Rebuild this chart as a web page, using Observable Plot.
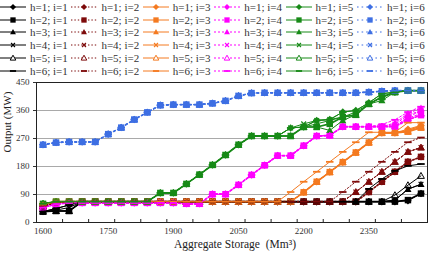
<!DOCTYPE html>
<html>
<head>
<meta charset="utf-8">
<script src="https://cdn.jsdelivr.net/npm/d3@7"></script>
<script src="https://cdn.jsdelivr.net/npm/@observablehq/plot@0.6"></script>
<style>
  body { margin: 0; background: #fff; }
  #wrap { position: relative; width: 428px; height: 253px; overflow: hidden;
          font-family: "Liberation Serif", "Times New Roman", serif; background: #fff; }
  #legend { position: absolute; left: 0; top: 0; width: 428px; height: 77px; }
  .item { position: absolute; height: 13px; display: flex; align-items: center;
          font-size: 11px; color: #333; white-space: nowrap; }
  .item span { margin-left: 4px; }
  #chart { position: absolute; left: 0; top: 77px; }
</style>
</head>
<body>
<div id="wrap"><div id="legend"></div><div id="chart"></div></div>
<script>
// Aggregate storage (Mm³) at each evaluated point
const storage = [1600,1630,1660,1690,1720,1750,1780,1810,1840,1870,
                 1900,1930,1960,1990,2020,2050,2080,2110,2140,2170,
                 2200,2230,2260,2290,2320,2350,2380,2410,2440,2470];
const storageTicks = [1600,1750,1900,2050,2200,2350];
const outputTicks = [0,90,180,270,360,450];
const hValues = [1,2,3,4,5,6];
const iValues = [1,2,3,4,5,6];

// Output (MW) for each h (rows) and i (columns)
const i1h1 = [35,45,56,67,67,67,67,67,67,67, 67,67,67,67,67,67,67,67,67,67, 67,67,67,67,67,67,67,67,70,93];
const i1h2 = [35,37,37,67,67,67,67,67,67,67, 67,67,67,67,67,67,67,67,67,67, 67,67,67,67,67,67,67,67,72,93];
const i1h3 = [35,37,37,67,67,67,67,67,67,67, 67,67,67,67,67,67,67,67,67,67, 67,67,67,67,67,67,67,72,107,123];
const i1h4 = [35,40,48,67,67,67,67,67,67,67, 67,67,67,67,67,67,67,67,67,67, 67,67,67,67,67,67,67,72,107,123];
const i1h5 = [35,37,37,67,67,67,67,67,67,67, 67,67,67,67,67,67,67,67,67,67, 67,67,67,67,67,67,67,88,120,150];
const i1h6 = [35,45,56,67,67,67,67,67,67,67, 67,67,67,67,67,67,67,67,67,67, 67,67,67,67,67,108,140,166,182,188];

const i2h1 = [52,65,67,67,67,67,67,67,67,67, 67,67,67,67,67,67,67,67,67,67, 67,67,67,67,67,98,131,163,195,211];
const i2h2 = [52,65,67,67,67,67,67,67,67,67, 67,67,67,67,67,67,67,67,67,67, 67,67,67,67,67,98,131,163,195,211];
const i2h3 = [52,65,67,67,67,67,67,67,67,67, 67,67,67,67,67,67,67,67,67,67, 67,67,67,67,98,131,163,195,227,241];
const i2h4 = [52,65,67,67,67,67,67,67,67,67, 67,67,67,67,67,67,67,67,67,67, 67,67,67,67,98,131,163,195,227,241];
const i2h5 = [52,65,67,67,67,67,67,67,67,67, 67,67,67,67,67,67,67,67,67,67, 67,67,67,67,98,131,163,195,227,241];
const i2h6 = [52,65,67,67,67,67,67,67,67,67, 67,67,67,67,67,67,67,67,67,67, 67,67,67,98,131,163,195,227,258,273];

const i3h1 = [58,67,67,67,67,67,67,67,67,67, 67,67,67,67,67,67,67,67,67,67, 97,131,162,194,225,257,288,288,300,312];
const i3h2 = [58,67,67,67,67,67,67,67,67,67, 67,67,67,67,67,67,67,67,67,67, 97,131,162,194,225,257,288,288,292,305];
const i3h3 = [58,67,67,67,67,67,67,67,67,67, 67,67,67,67,67,67,67,67,67,67, 97,131,162,194,225,257,288,288,296,310];
const i3h4 = [58,67,67,67,67,67,67,67,67,67, 67,67,67,67,67,67,67,67,67,67, 97,131,162,194,225,257,288,288,296,310];
const i3h5 = [58,67,67,67,67,67,67,67,67,67, 67,67,67,67,67,67,67,67,67,67, 97,131,162,194,225,257,288,288,292,305];
const i3h6 = [58,67,67,67,67,67,67,67,67,67, 67,67,67,67,67,67,67,67,67,98, 131,163,195,227,258,290,290,290,321,321];

const i4h1 = [48,59,63,63,63,63,63,63,63,63, 63,60,60,91,91,121,153,184,215,215, 247,278,280,308,308,308,308,308,340,358];
const i4h2 = [48,59,63,63,63,63,63,63,63,63, 63,60,60,91,91,121,153,184,215,215, 247,278,280,308,308,308,308,308,330,345];
const i4h3 = [48,59,63,63,63,63,63,63,63,63, 63,60,60,91,91,121,153,184,215,215, 247,278,280,308,308,308,308,320,350,368];
const i4h4 = [48,59,63,63,63,63,63,63,63,63, 63,60,60,91,91,121,153,184,215,215, 247,278,280,308,308,308,308,315,345,360];
const i4h5 = [48,59,63,63,63,63,63,63,63,63, 63,60,60,91,91,121,153,184,215,215, 247,278,280,308,308,308,308,310,335,350];
const i4h6 = [48,59,63,63,63,63,63,63,63,63, 63,60,60,91,91,121,153,184,215,215, 247,278,280,308,308,308,315,330,355,372];

const i5h1 = [60,67,67,67,67,67,67,67,67,95, 95,124,154,185,217,250,278,278,278,304, 307,328,331,355,360,385,414,419,424,424];
const i5h2 = [60,67,67,67,67,67,67,67,67,95, 95,124,154,185,217,250,278,278,278,278, 307,307,317,339,346,381,403,419,424,424];
const i5h3 = [60,67,67,67,67,67,67,67,67,95, 95,124,154,185,217,250,278,278,278,278, 307,307,296,328,346,381,392,419,424,424];
const i5h4 = [60,67,67,67,67,67,67,67,67,95, 95,124,154,185,217,250,278,278,278,304, 317,328,331,339,355,381,403,419,424,424];
const i5h5 = [60,67,67,67,67,67,67,67,67,95, 95,124,154,185,217,250,278,278,278,278, 307,317,328,339,346,381,403,419,424,424];
const i5h6 = [60,67,67,67,67,67,67,67,67,95, 95,124,154,185,217,250,278,278,278,304, 307,328,331,355,360,385,414,419,424,424];

const i6h1 = [250,257,259,259,259,284,305,331,354,377, 379,379,379,383,391,407,416,417,417,417, 417,417,417,417,417,419,422,424,424,424];
const i6h2 = [250,257,259,259,259,284,305,331,354,377, 379,379,379,383,391,407,416,417,417,417, 417,417,417,417,417,419,422,424,424,424];
const i6h3 = [250,257,259,259,259,284,305,331,354,377, 379,379,379,383,391,407,416,417,417,417, 417,417,417,417,417,419,422,424,424,424];
const i6h4 = [250,257,259,259,259,284,305,331,354,377, 379,379,379,383,391,407,416,417,417,417, 417,417,417,417,417,419,422,424,424,424];
const i6h5 = [250,257,259,259,259,284,305,331,354,377, 379,379,379,383,391,407,416,417,417,417, 417,417,417,417,417,419,422,424,424,424];
const i6h6 = [250,257,259,259,259,284,305,331,354,377, 379,379,379,383,391,407,416,417,417,417, 417,417,417,417,417,419,422,424,424,424];

const outputs = {
  1: [i1h1, i1h2, i1h3, i1h4, i1h5, i1h6],
  2: [i2h1, i2h2, i2h3, i2h4, i2h5, i2h6],
  3: [i3h1, i3h2, i3h3, i3h4, i3h5, i3h6],
  4: [i4h1, i4h2, i4h3, i4h4, i4h5, i4h6],
  5: [i5h1, i5h2, i5h3, i5h4, i5h5, i5h6],
  6: [i6h1, i6h2, i6h3, i6h4, i6h5, i6h6]
};

// Styling: colour and dash per i, marker per h
const iColor = {1: "#000000", 2: "#7d0a0a", 3: "#f47a20", 4: "#ff00ff", 5: "#178a17", 6: "#3e6fe3"};
const iDash  = {1: null, 2: "1.4,2", 3: null, 4: "2,2", 5: null, 6: "1.6,3"};

const rad = s => Math.sqrt(s / Math.PI);
const symbols = {
  1: {draw(c, s) { const r = rad(s) * 1.1; c.moveTo(0, -r); c.lineTo(r, 0); c.lineTo(0, r); c.lineTo(-r, 0); c.closePath(); }},
  2: {draw(c, s) { const r = rad(s) * 0.95; c.rect(-r, -r, 2 * r, 2 * r); }},
  3: {draw(c, s) { const r = rad(s) * 1.05; c.moveTo(0, -r); c.lineTo(r, r * 0.75); c.lineTo(-r, r * 0.75); c.closePath(); }},
  4: {draw(c, s) { const r = rad(s) * 0.7; c.moveTo(-r, -r); c.lineTo(r, r); c.moveTo(r, -r); c.lineTo(-r, r); }},
  5: {draw(c, s) { const r = rad(s) * 1.0; c.moveTo(0, -r); c.lineTo(r, r * 0.75); c.lineTo(-r, r * 0.75); c.closePath(); }},
  6: {draw(c, s) { const r = rad(s) * 1.1; c.rect(-r, -0.9, 2 * r, 1.8); }}
};
function markerStyle(h, color, hollowFill) {
  if (h === 4) return {fill: "none", stroke: color, strokeWidth: 1.2};
  if (h === 5) return {fill: hollowFill, stroke: color, strokeWidth: 1};
  return {fill: color, stroke: "none"};
}

// Series in legend order: h = 1..6, each with i = 1..6
const series = [];
for (const h of hValues) for (const i of iValues) series.push({h, i, values: outputs[i][h - 1]});

// Tick marks sit between every second pair of storage points
const boundaryTicks = d3.range(1, 15).map(j => (storage[2 * j - 1] + storage[2 * j]) / 2);
const half = (storage[1] - storage[0]) / 2;

const marks = [
  Plot.gridY([90, 180, 270, 360], {stroke: "#a9a9a9", strokeOpacity: 1, strokeWidth: 1})
];
for (const s of series) {
  const rows = storage.map((x, k) => ({x, y: s.values[k]}));
  const color = iColor[s.i];
  marks.push(Plot.line(rows, {x: "x", y: "y", stroke: color,
    strokeWidth: s.h === 2 ? 1.7 : 1, strokeDasharray: iDash[s.i] || undefined}));
  marks.push(Plot.dot(rows, {x: "x", y: "y", symbol: symbols[s.h], r: 3.4, ...markerStyle(s.h, color, "none")}));
}
marks.push(
  Plot.frame({stroke: "#222", strokeWidth: 1}),
  Plot.axisY(outputTicks, {tickSize: 3, tickPadding: 4, fontSize: 9, color: "#333", label: null}),
  Plot.axisX(boundaryTicks, {tickSize: 3, dy: -3, tickFormat: () => "", label: null, stroke: "#222"}),
  Plot.axisX(storageTicks, {tickSize: 0, tickPadding: 5, fontSize: 9, color: "#333", label: null, tickFormat: d => String(d)}),
  Plot.text(["Aggregate Storage  (Mm³)"], {frameAnchor: "bottom", dy: 25, dx: 3, fontSize: 11.5, fill: "#222"}),
  Plot.text(["Output (MW)"], {frameAnchor: "left", rotate: -90, dx: -29, fontSize: 11, fill: "#222"})
);

const chart = Plot.plot({
  width: 428, height: 176,
  marginLeft: 36, marginRight: 1, marginTop: 5, marginBottom: 31,
  x: {domain: [storage[0] - half, storage[storage.length - 1] + half], label: null},
  y: {domain: [0, 450], label: null},
  style: {fontFamily: "'Liberation Serif', serif", background: "white", overflow: "visible"},
  marks
});
document.getElementById("chart").appendChild(chart);

// Legend: 6 rows (h) by 6 columns (i)
const legend = d3.select("#legend");
for (const s of series) {
  const col = s.i - 1, row = s.h - 1;
  const color = iColor[s.i];
  const item = legend.append("div").attr("class", "item")
    .style("left", (col * 71.4) + "px")
    .style("top", (6.7 + row * 12.86 - 6.5) + "px");
  const sw = item.append("svg").attr("width", 26).attr("height", 12);
  sw.append("line").attr("x1", 0).attr("x2", 26).attr("y1", 6).attr("y2", 6)
    .attr("stroke", color).attr("stroke-width", 1)
    .attr("stroke-dasharray", iDash[s.i]);
  const p = d3.path();
  symbols[s.h].draw(p, 2.8 * 2.8 * Math.PI);
  const st = markerStyle(s.h, color, "white");
  sw.append("path").attr("transform", "translate(13,6)").attr("d", p.toString())
    .attr("fill", st.fill).attr("stroke", st.stroke).attr("stroke-width", st.strokeWidth || 0);
  item.append("span").text(`h=${s.h}; i=${s.i}`);
}
</script>
</body>
</html>
